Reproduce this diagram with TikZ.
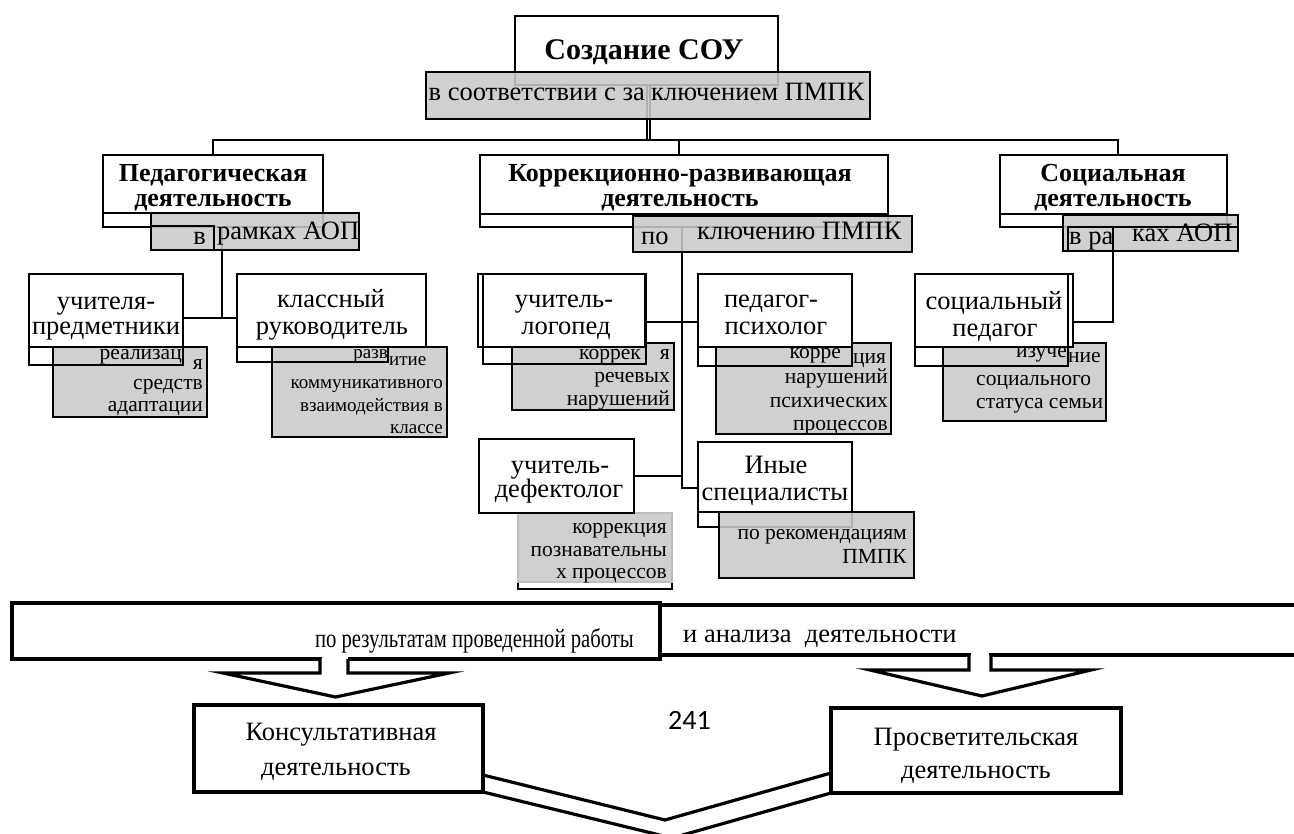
\documentclass[tikz,border=0pt]{standalone}
\usepackage{fontspec}
\setmainfont{Liberation Serif}
\newfontfamily\carlfont{Carlito}
\usepackage{graphicx}
\usetikzlibrary{fit,calc}
\definecolor{gbg}{RGB}{201,201,201}
\definecolor{gfaint}{RGB}{190,190,190}
\newcommand\fsTitle{\fontsize{30}{32}\selectfont\bfseries}
\newcommand\fsHead{\fontsize{26}{26}\selectfont\bfseries}
\newcommand\fsMain{\fontsize{26.5}{27}\selectfont}
\newcommand\fsGray{\fontsize{21.5}{22}\selectfont}
\newcommand\fsGraySmall{\fontsize{19}{20}\selectfont}
\pgfdeclarelayer{bg}
\pgfsetlayers{bg,main}
\tikzset{
  bx/.style={draw, line width=2.6pt, fill=white, inner sep=0pt, outer sep=0pt},
  ol/.style={draw, line width=2.6pt, inner sep=0pt, outer sep=0pt},
  olw/.style={draw, line width=2.6pt, fill=white, inner sep=0pt, outer sep=0pt},
  gb/.style={draw, line width=2.4pt, fill=gbg, fill opacity=0.88, draw opacity=1, inner sep=0pt, outer sep=0pt},
  gbl/.style={draw=gfaint, line width=2.4pt, fill=gbg, fill opacity=0.88, inner sep=0pt, outer sep=0pt},
  bbx/.style={draw, line width=3.4pt, fill=white, inner sep=0pt, outer sep=0pt},
  ln/.style={line width=2.4pt},
  dbl/.style={line width=1.3pt, double=white, double distance=1.6pt},
  tm/.style={inner sep=0pt, font=\fsMain},
  tg/.style={inner sep=0pt, font=\fsGray},
  tgs/.style={inner sep=0pt, font=\fsGraySmall},
  th/.style={inner sep=0pt, font=\fsHead},
}
\begin{document}
\begin{tikzpicture}[x=1pt,y=-1pt]
\useasboundingbox (0,0) rectangle (1294,834);
\clip (0,0) rectangle (1294,834);

% ---------- top ----------
\node[bx, fit={(515,16) (778,85)}] (title) {};
\node[olw, fit={(103,155) (323,227)}] (pedb) {};
\node[bx, fit={(103,155) (323,213)}] (ped) {};
\node[olw, fit={(480,155) (888,227)}] (korrb) {};
\node[bx, fit={(480,155) (888,214)}] (korr) {};
\node[olw, fit={(1000,155) (1227,227)}] (socb) {};
\node[bx, fit={(1000,155) (1227,214)}] (soc) {};
\node[gb, fit={(426,72) (870,119)}] (gone) {};
\node[gb, fit={(151,213) (359,250)}] (gp) {};
\node[ol, fit={(151,226) (214,250)}] (gpin) {};
\node[gb, fit={(633,216) (912,252)}] (gk) {};
\node[gb, fit={(1063,215) (1238,251)}] (gs) {};
\node[ol, fit={(1068,227) (1238,251)}] (gsin) {};

% ---------- sub boxes ----------
\node[gb, fit={(53,347) (207,417)}] (gup) {};
\node[ol, fit={(29,274) (183,365)}] (upb) {};
\node[bx, fit={(29,274) (183,347)}] (up) {};

\node[gb, fit={(272,347) (447,437)}] (gkr) {};
\node[ol, fit={(237,274) (388,362)}] (krb) {};
\node[bx, fit={(237,274) (426,347)}] (kr) {};

\node[gb, fit={(512,343) (674,410)}] (glg) {};
\node[bx, fit={(478,274) (645,347)}] (lg) {};
\node[ol, fit={(483,274) (646,364)}] (lgb) {};

\node[gb, fit={(716,343) (891,434)}] (gps) {};
\node[ol, fit={(698,274) (852,366)}] (psb) {};
\node[bx, fit={(698,274) (852,347)}] (ps) {};

\node[gb, fit={(943,343) (1106,421)}] (gsp) {};
\node[bx, fit={(915,274) (1073,347)}] (sp) {};
\node[ol, fit={(915,274) (1068,366)}] (spb) {};

\node[olw, fit={(518,513) (672,589)}] (gdfb) {};
\node[gbl, fit={(518,513) (672,582)}] (gdf) {};
\node[bx, fit={(479,439) (634,513)}] (df) {};

\node[olw, fit={(698,442) (852,527)}] (inyb) {};
\node[bx, fit={(698,442) (852,512)}] (iny) {};
\node[gb, fit={(719,512) (914,578)}] (gin) {};

% ---------- connectors (behind) ----------
\coordinate (hub) at (648.5,140);
\coordinate (kv) at (679,140);
\coordinate (sv) at (1118,140);
\coordinate (pj) at (222,318);
\coordinate (kx) at (682,322);
\coordinate (ky) at (682,488);
\coordinate (sj) at (1113,322);
\begin{pgfonlayer}{bg}
\draw[dbl] (title.south -| hub) -- (hub);
\draw[ln] (ped.north) -- (ped.north |- hub) -- (sv) -- (sv |- soc.north);
\draw[ln] (kv) -- (kv |- korr.north);
\draw[ln] (gpin.north -| pj) -- (pj);
\draw[ln] (up.east |- pj) -- (kr.west |- pj);
\draw[ln] (korrb.south -| kx) -- (ky) -- (iny.west |- ky);
\draw[ln] (lg.east |- kx) -- (ps.west |- kx);
\draw[ln] (df.east) -- (df.east -| kx);
\end{pgfonlayer}
\draw[ln] (gsin.north -| sj) -- (sj) -- (sp.east |- sj);

% ---------- texts ----------
\node[inner sep=0pt, font=\fsTitle, anchor=base] (tTitle) at (644,60) {Создание СОУ};
\node[tm, anchor=base east] (tGa) at (645,101) {в соответствии с за};
\node[tm, anchor=base west] (tGb) at (651,101) {ключением ПМПК};

\node[th, anchor=base] (tPa) at (213,182) {Педагогическая};
\node[th, anchor=base] (tPb) at (213,207) {деятельность};
\node[th, anchor=base] (tKa) at (680,182) {Коррекционно-развивающая};
\node[th, anchor=base] (tKb) at (680,207) {деятельность};
\node[th, anchor=base] (tSa) at (1113,182) {Социальная};
\node[th, anchor=base] (tSb) at (1113,207) {деятельность};

\node[tm, anchor=base east] (tgpa) at (206,245) {в};
\node[tm, anchor=base west] (tgpb) at (217,240) {рамках АОП};
\node[tm, anchor=base west] (tgka) at (641,245) {по};
\node[tm, anchor=base west] (tgkb) at (697,240) {ключению ПМПК};
\node[tm, anchor=base west] (tgsa) at (1069,245) {в ра};
\node[tm, anchor=base west] (tgsb) at (1132,242) {ках АОП};

\node[tm, anchor=base] (tua) at (106,310) {учителя-};
\node[tm, anchor=base] (tub) at (106,335) {предметники};
\node[tm, anchor=base] (tka) at (331,308) {классный};
\node[tm, anchor=base] (tkb) at (332,335) {руководитель};
\node[tm, anchor=base] (tla) at (564,308) {учитель-};
\node[tm, anchor=base] (tlb) at (566,335) {логопед};
\node[tm, anchor=base] (tpa) at (771,308) {педагог-};
\node[tm, anchor=base] (tpb) at (776,335) {психолог};
\node[tm, anchor=base] (tsa) at (994,310) {социальный};
\node[tm, anchor=base] (tsb) at (995,337) {педагог};
\node[tm, anchor=base] (tda) at (560,473) {учитель-};
\node[tm, anchor=base] (tdb) at (559,497) {дефектолог};
\node[tm, anchor=base] (tia) at (776,473) {Иные};
\node[tm, anchor=base] (tib) at (775,500) {специалисты};

\node[tg, anchor=base east] (gua) at (182,360) {реализац};
\node[tg, anchor=base east] (gub) at (203,370) {я};
\node[tg, anchor=base east] (guc) at (203,390) {средств};
\node[tg, anchor=base east] (gud) at (203,412) {адаптации};

\node[tgs, anchor=base east] (gka) at (388,359) {разв};
\node[tgs, anchor=base west] (gkb) at (389,366) {итие};
\node[tgs, anchor=base east] (gkc) at (443,389) {коммуникативного};
\node[tgs, anchor=base east] (gkd) at (443,411) {взаимодействия в};
\node[tgs, anchor=base east] (gke) at (443,433) {классе};

\node[tg, anchor=base east] (gla) at (641,360) {коррек};
\node[tg, anchor=base east] (glb) at (670,360) {я};
\node[tg, anchor=base east] (glc) at (670,383) {речевых};
\node[tg, anchor=base east] (gld) at (670,406) {нарушений};

\node[tg, anchor=base east] (gpa) at (841,359) {корре};
\node[tg, anchor=base west] (gpb) at (853,364) {ция};
\node[tg, anchor=base east] (gpc) at (888,384) {нарушений};
\node[tg, anchor=base east] (gpd) at (888,407) {психических};
\node[tg, anchor=base east] (gpe) at (888,430) {процессов};

\node[tg, anchor=base east] (gsa) at (1067,358) {изуче};
\node[tg, anchor=base west] (gsb) at (1068,363) {ние};
\node[tg, anchor=base west] (gsc) at (976,386) {социального};
\node[tg, anchor=base west] (gsd) at (976,409) {статуса семьи};

\node[tg, anchor=base east] (gda) at (667,533) {коррекция};
\node[tg, anchor=base east] (gdb) at (667,556) {познавательны};
\node[tg, anchor=base east] (gdc) at (667,578) {х процессов};

\node[tg, anchor=base east] (gia) at (907,539) {по рекомендациям};
\node[tg, anchor=base east] (gib) at (907,563) {ПМПК};

% ---------- bottom ----------
\node[bbx, fit={(660,605) (1310,655)}] (br) {};
\node[bbx, fit={(12,603) (660,659)}] (bl) {};
\node[bbx, fit={(194,705) (483,792)}] (ko) {};
\node[bbx, fit={(831,708) (1121,793)}] (pr) {};

% block arrow 1
\fill[white] ($(bl.south west)+(310,-4)$) rectangle ($(bl.south west)+(336,4)$);
\draw[line width=3.2pt, line join=miter, fill=white]
  ($(bl.south west)+(308,0)$) -- ($(bl.south west)+(308,14)$) -- ($(bl.south west)+(211,14)$)
  -- ($(ko.north)+(-3,-8)$) -- ($(bl.south west)+(437,14)$) -- ($(bl.south west)+(336,14)$)
  -- ($(bl.south west)+(336,0)$);
% block arrow 2
\fill[white] ($(br.south west)+(311,-4)$) rectangle ($(br.south west)+(329,4)$);
\draw[line width=3.2pt, line join=miter, fill=white]
  ($(br.south west)+(309,0)$) -- ($(br.south west)+(309,15)$) -- ($(br.south west)+(210,15)$)
  -- ($(pr.north)+(6,-12)$) -- ($(br.south west)+(431,15)$) -- ($(br.south west)+(331,15)$)
  -- ($(br.south west)+(331,0)$);

% double bent connector
\draw[line width=3.2pt] ($(ko.north east)+(0,70)$) -- (665,820) -- ($(pr.north west)+(0,65)$);
\draw[line width=3.2pt] (ko.south east) -- (672,838) -- (pr.south west);

\node[tm, anchor=base east] (bta) at (634,647) {\scalebox{0.78}[1]{по результатам проведенной работы}};
\node[tm, anchor=base west] (btb) at (683,642) {и анализа\ \ деятельности};
\node[tm, anchor=base] (koa) at (341,740) {Консультативная};
\node[tm, anchor=base] (kob) at (336,775) {деятельность};
\node[tm, anchor=base] (pra) at (976,745) {Просветительская};
\node[tm, anchor=base] (prb) at (976,778) {деятельность};
\node[inner sep=0pt, anchor=base west, font=\carlfont\fontsize{28}{30}\selectfont] (pg) at (668,729) {241};
\end{tikzpicture}
\end{document}
